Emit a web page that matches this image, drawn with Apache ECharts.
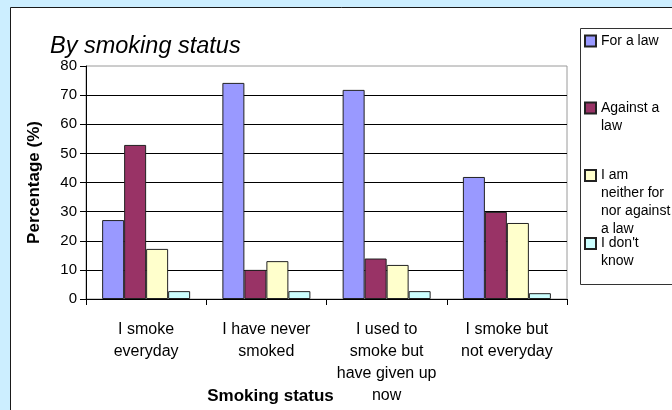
<!DOCTYPE html>
<html><head><meta charset="utf-8">
<script src="https://cdn.jsdelivr.net/npm/echarts@6/dist/echarts.min.js"></script>
<style>html,body{margin:0;padding:0;background:#cceeff;overflow:hidden;} #c{width:672px;height:410px;}</style>
</head><body><div id="c"></div>
<script>
const categories = ['I smoke\neveryday', 'I have never\nsmoked', 'I used to\nsmoke but\nhave given up\nnow', 'I smoke but\nnot everyday'];
const seriesNames = ['For a law', 'Against a law', 'I am neither for nor against a law', "I don't know"];
const legendLabels = ['For a law', 'Against a\nlaw', 'I am\nneither for\nnor against\na law', "I don't\nknow"];
const forLaw = [27.1, 74.2, 71.8, 41.9];
const againstLaw = [52.9, 10.0, 13.9, 29.9];
const neither = [17.2, 13.0, 11.7, 26.1];
const dontKnow = [2.7, 2.7, 2.7, 2.0];
const colors = ['#9999ff', '#993366', '#ffffcc', '#ccffff'];
const yMin = 0, yMax = 80, yInterval = 10;

const FONT = 'Liberation Sans, Arial, sans-serif';
const values = [forLaw, againstLaw, neither, dontKnow];
const legendCenters = [41, 108, 175.5, 243.5];
const LH = 18;

const chart = echarts.init(document.getElementById('c'), null, {renderer: 'canvas'});
chart.setOption({
  backgroundColor: '#cceeff',
  animation: false,
  color: colors,
  textStyle: {fontFamily: FONT},
  graphic: [
    {type: 'rect', z: -100, shape: {x: 10.5, y: 7.5, width: 800, height: 450}, style: {fill: '#ffffff', stroke: '#1a1a1a', lineWidth: 1}},
    {type: 'polyline', z: -90, shape: {points: [[900, 28.5], [580.5, 28.5], [580.5, 284.5], [900, 284.5]]}, style: {fill: null, stroke: '#333333', lineWidth: 1}}
  ],
  title: {
    text: 'By smoking status', left: 50, top: 35, padding: 0,
    textStyle: {fontFamily: FONT, fontSize: 23.5, fontStyle: 'italic', fontWeight: 'normal', color: '#000'}
  },
  legend: seriesNames.map((n, i) => {
    const nLines = legendLabels[i].split('\n').length;
    const text = '\n'.repeat(nLines - 1) + legendLabels[i];
    const blockH = (2 * nLines - 1) * LH;
    return {
      data: [n], orient: 'vertical', left: 584, top: legendCenters[i] - blockH / 2, padding: 0,
      itemWidth: 11, itemHeight: 11, itemGap: 0, selectedMode: false, icon: 'rect',
      formatter: () => text,
      textStyle: {fontFamily: FONT, fontSize: 14, color: '#000', lineHeight: LH}
    };
  }),
  grid: {left: 86, top: 66, width: 481, height: 233, show: true, borderColor: '#9a9a9a', borderWidth: 1,
         backgroundColor: 'transparent', containLabel: false, outerBoundsMode: 'none'},
  xAxis: {
    type: 'category', data: categories, boundaryGap: true,
    axisLine: {lineStyle: {color: '#000', width: 1}},
    axisTick: {show: true, length: 6, lineStyle: {color: '#000'}},
    axisLabel: {fontFamily: FONT, fontSize: 16, color: '#000', lineHeight: 22, margin: 20, interval: 0},
    name: 'Smoking status', nameLocation: 'middle', nameGap: 89, nameMoveOverlap: false,
    nameTextStyle: {fontFamily: FONT, fontSize: 17, fontWeight: 'bold', color: '#000', padding: [0, 112, 0, 0]}
  },
  yAxis: {
    type: 'value', min: yMin, max: yMax, interval: yInterval,
    axisLine: {show: true, lineStyle: {color: '#000', width: 1}},
    axisTick: {show: true, length: 6, lineStyle: {color: '#000'}},
    axisLabel: {fontFamily: FONT, fontSize: 15, color: '#000', margin: 9},
    splitLine: {show: true, showMaxLine: false, lineStyle: {color: '#000', width: 1}},
    name: 'Percentage (%)', nameLocation: 'middle', nameGap: 43, nameMoveOverlap: false,
    nameTextStyle: {fontFamily: FONT, fontSize: 17, fontWeight: 'bold', color: '#000'}
  },
  series: seriesNames.map((n, i) => ({
    type: 'bar', name: n, data: values[i], barWidth: 22, barGap: '0%',
    itemStyle: {color: colors[i], borderColor: '#222', borderWidth: 1}
  }))
});
</script></body></html>
